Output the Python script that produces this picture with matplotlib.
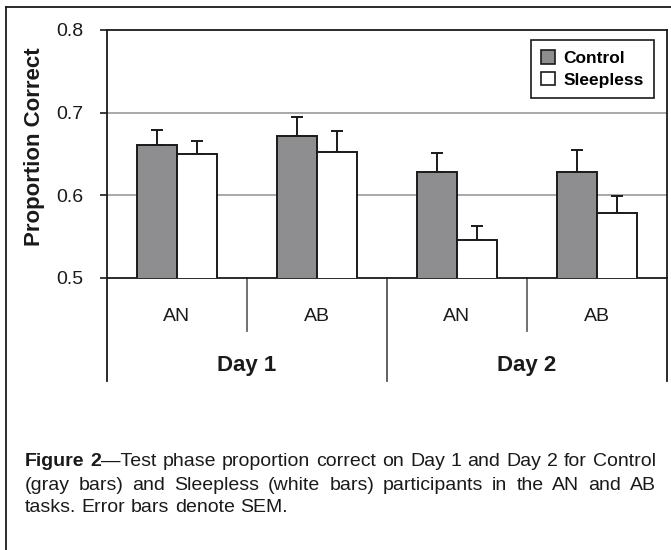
import matplotlib
matplotlib.use("Agg")
import matplotlib.pyplot as plt
import matplotlib.transforms as mtransforms
from matplotlib.patches import Patch
from matplotlib.lines import Line2D
import numpy as np

plt.rcParams['font.family'] = ['Liberation Sans Narrow', 'Liberation Sans', 'DejaVu Sans']

# data
days = ['Day 1', 'Day 2']
tasks = ['AN', 'AB', 'AN', 'AB']
control = [0.661, 0.671, 0.628, 0.628]
control_sem = [0.018, 0.024, 0.023, 0.027]
sleepless = [0.650, 0.652, 0.546, 0.578]
sleepless_sem = [0.016, 0.025, 0.017, 0.021]
yticks = [0.5, 0.6, 0.7, 0.8]

W, H = 671, 550
fig = plt.figure(figsize=(W / 100, H / 100), dpi=100)


def px(x, y):
    return x / W, 1 - y / H


ax_l, ax_r, ax_t, ax_b = 107, 667, 30, 277.5
ax = fig.add_axes([ax_l / W, 1 - ax_b / H, (ax_r - ax_l) / W, (ax_b - ax_t) / H])

x = np.arange(len(tasks))
bw = 0.287
gray = '#8e8e91'
ax.bar(x - bw / 2, control, bw, color=gray, edgecolor='#1a1a1a', linewidth=1.4, zorder=3,
       label='Control')
ax.bar(x + bw / 2, sleepless, bw, color='white', edgecolor='#1a1a1a', linewidth=1.4, zorder=3,
       label='Sleepless')
ax.errorbar(x - bw / 2, control, yerr=[np.zeros(4), control_sem], fmt='none',
            ecolor='#1a1a1a', elinewidth=1.4, capsize=4.3, capthick=1.4, zorder=2)
ax.errorbar(x + bw / 2, sleepless, yerr=[np.zeros(4), sleepless_sem], fmt='none',
            ecolor='#1a1a1a', elinewidth=1.4, capsize=4.3, capthick=1.4, zorder=2)

ax.set_xlim(-0.5, 3.5)
ax.set_ylim(0.5, 0.8)
ax.set_yticks(yticks)
ax.set_yticklabels(['0.5', '0.6', '0.7', '0.8'])
ax.tick_params(axis='y', direction='out', length=5, width=1.2, pad=12, labelsize=14,
               colors='#1a1a1a')
ax.set_xticks([])
for yv in [0.6, 0.7]:
    ax.axhline(yv, color='#9a9a9a', linewidth=1.2, zorder=1)
for s in ax.spines.values():
    s.set_color('#1a1a1a')
    s.set_linewidth(1.3)

# category separators below the axis
trans = mtransforms.blended_transform_factory(ax.transData, ax.transAxes)
inner_y = -(331 - ax_b) / (ax_b - ax_t)
outer_y = -(381 - ax_b) / (ax_b - ax_t)
for xb in [0.5, 2.5]:
    ax.plot([xb, xb], [0, inner_y], transform=trans, clip_on=False, color='#666666', lw=1.3)
for xb in [-0.5, 1.5, 3.5]:
    c = '#1a1a1a' if xb != 1.5 else '#555555'
    ax.plot([xb, xb], [0, outer_y], transform=trans, clip_on=False, color=c, lw=1.3)

task_y = -(316.5 - ax_b) / (ax_b - ax_t)
day_y = -(365 - ax_b) / (ax_b - ax_t)
for xi, t in zip(x, tasks):
    ax.text(xi, task_y, t, transform=trans, ha='center', va='center', fontsize=14,
            color='#1a1a1a')
for i, d in enumerate(days):
    ax.text(0.5 + 2 * i, day_y, d, transform=trans, ha='center', va='center', fontsize=16,
            fontweight='bold', color='#1a1a1a')

fig.text(*px(35, 146.5), 'Proportion Correct', rotation=90, ha='center', va='center',
         fontsize=16, fontweight='bold', color='#1a1a1a')

handles = [Patch(facecolor=gray, edgecolor='#1a1a1a', linewidth=1.2, label='Control'),
           Patch(facecolor='white', edgecolor='#1a1a1a', linewidth=1.2, label='Sleepless')]
leg = ax.legend(handles=handles, loc='upper right',
                bbox_to_anchor=((654.3 - ax_l) / (ax_r - ax_l), (ax_b - 40) / (ax_b - ax_t)),
                borderaxespad=0, fancybox=False, framealpha=1, edgecolor='#1a1a1a',
                prop={'weight': 'bold', 'size': 12.5}, handlelength=0.8, handleheight=0.8,
                handletextpad=0.5, labelspacing=0.35, borderpad=0.6)
leg.get_frame().set_linewidth(1.2)
leg.set_zorder(5)

# outer frame (top and left edges visible)
fig.add_artist(Line2D([5.5 / W, 1.0], [1 - 7 / H, 1 - 7 / H], transform=fig.transFigure,
                      color='#1a1a1a', lw=1.3))
fig.add_artist(Line2D([5.5 / W, 5.5 / W], [1 - 7 / H, 0.0], transform=fig.transFigure,
                      color='#1a1a1a', lw=1.3))

# justified caption
cap_lines = [
    [[('Figure', 'bold')], [('2', 'bold'), ('\u2014Test', 'normal')], [('phase', 'normal')],
     [('proportion', 'normal')], [('correct', 'normal')], [('on', 'normal')], [('Day', 'normal')],
     [('1', 'normal')], [('and', 'normal')], [('Day', 'normal')], [('2', 'normal')],
     [('for', 'normal')], [('Control', 'normal')]],
    [[(w, 'normal')] for w in '(gray bars) and Sleepless (white bars) participants in the AN and AB'.split()],
    [[(w, 'normal')] for w in 'tasks. Error bars denote SEM.'.split()],
]
cap_baselines = [466.5, 489.5, 512.0]
cap_left, cap_right = 25, 656
cap_size = 14

renderer = fig.canvas.get_renderer()


def piece_width(s, weight):
    t = fig.text(0, 0, s, fontsize=cap_size, fontweight=weight)
    w = t.get_window_extent(renderer).width
    t.remove()
    return w


space_w = piece_width('a a', 'normal') - piece_width('aa', 'normal')
for li, (words, base) in enumerate(zip(cap_lines, cap_baselines)):
    widths = [[piece_width(s, wt) for s, wt in word] for word in words]
    totals = [sum(w) for w in widths]
    if li < len(cap_lines) - 1:
        gap = (cap_right - cap_left - sum(totals)) / (len(words) - 1)
    else:
        gap = space_w
    xc = cap_left
    for word, ws in zip(words, widths):
        for (s, wt), w in zip(word, ws):
            fig.text(xc / W, 1 - base / H, s, fontsize=cap_size, fontweight=wt,
                     ha='left', va='baseline', color='#1a1a1a')
            xc += w
        xc += gap

fig.savefig('out.png', dpi=100)
